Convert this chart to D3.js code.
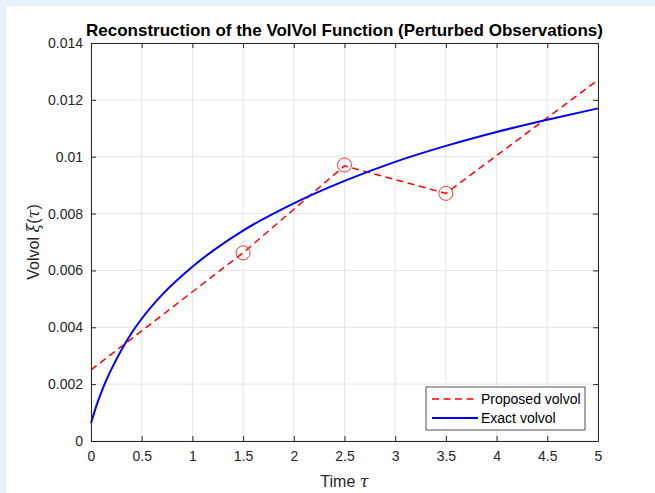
<!DOCTYPE html>
<html>
<head>
<meta charset="utf-8">
<script src="https://cdn.jsdelivr.net/npm/d3@7"></script>
<style>
  html, body { margin: 0; padding: 0; background: #e8f1fb; }
  svg { display: block; font-family: "Liberation Sans", Arial, sans-serif; }
</style>
</head>
<body>
<svg id="chart" width="655" height="493"></svg>
<script>
// proposed volvol (piecewise linear through the observations)
const propTau = [0, 1.5, 2.5, 3.5, 5];
const propVal = [0.0025, 0.00662, 0.00968, 0.00871, 0.0127];

// observation markers
const obsTau = [1.5, 2.5, 3.5];
const obsVal = [0.00662, 0.00971, 0.00871];

// exact volvol
const exactTau = [0, 0.03, 0.07, 0.12, 0.17, 0.23, 0.3, 0.4, 0.5, 0.7, 1.0, 1.5, 2.0, 2.5, 3.0, 3.5, 4.0, 4.5, 5.0];
const exactVal = [0.00062, 0.00098, 0.00141, 0.00188, 0.00229, 0.00273, 0.0032, 0.0038, 0.0043, 0.00514, 0.00613, 0.0074, 0.00836, 0.00915, 0.00982, 0.01038, 0.01087, 0.0113, 0.0117];

const xTicks = [0, 0.5, 1, 1.5, 2, 2.5, 3, 3.5, 4, 4.5, 5];
const yTicks = [0, 0.002, 0.004, 0.006, 0.008, 0.01, 0.012, 0.014];

const svg = d3.select('#chart');
const M = { left: 91, right: 598, top: 43, bottom: 441 };
const axisColor = '#262626';

// white figure area
svg.append('rect')
  .attr('x', 6).attr('y', 6)
  .attr('width', 655 - 6).attr('height', 493 - 6)
  .attr('fill', '#fff');

const x = d3.scaleLinear().domain([0, 5]).range([M.left, M.right]);
const y = d3.scaleLinear().domain([0, 0.014]).range([M.bottom, M.top]);

// grid
const grid = svg.append('g').attr('stroke', '#e5e5e5').attr('stroke-width', 1);
xTicks.forEach(t => {
  grid.append('line')
    .attr('x1', x(t)).attr('x2', x(t))
    .attr('y1', M.top).attr('y2', M.bottom);
});
yTicks.forEach(t => {
  grid.append('line')
    .attr('x1', M.left).attr('x2', M.right)
    .attr('y1', y(t)).attr('y2', y(t));
});

// lines
const propLine = d3.line().x((d, i) => x(propTau[i])).y(d => y(d));
svg.append('path')
  .attr('d', propLine(propVal))
  .attr('fill', 'none')
  .attr('stroke', '#ff0000')
  .attr('stroke-width', 1.5)
  .attr('stroke-dasharray', '7,4.5');

const exactLine = d3.line().x((d, i) => x(exactTau[i])).y(d => y(d)).curve(d3.curveMonotoneX);
svg.append('path')
  .attr('d', exactLine(exactVal))
  .attr('fill', 'none')
  .attr('stroke', '#0000ff')
  .attr('stroke-width', 2);

svg.selectAll('.obs')
  .data(obsVal)
  .enter()
  .append('circle')
  .attr('cx', (d, i) => x(obsTau[i]))
  .attr('cy', d => y(d))
  .attr('r', 7)
  .attr('fill', 'none')
  .attr('stroke', '#ff0000')
  .attr('stroke-width', 0.8);

// axes (MATLAB box with inward ticks)
const fmtY = d => d === 0 ? '0' : String(+d.toFixed(3));
const xAxis = d3.axisBottom(x).tickValues(xTicks).tickSizeInner(-5).tickSizeOuter(0).tickPadding(10).tickFormat(d => String(d));
const yAxis = d3.axisLeft(y).tickValues(yTicks).tickSizeInner(-5).tickSizeOuter(0).tickPadding(8).tickFormat(fmtY);
const xAxisTop = d3.axisTop(x).tickValues(xTicks).tickSizeInner(-5).tickSizeOuter(0).tickFormat('');
const yAxisRight = d3.axisRight(y).tickValues(yTicks).tickSizeInner(-5).tickSizeOuter(0).tickFormat('');

function style(g) {
  g.select('.domain').attr('stroke', axisColor);
  g.selectAll('.tick line').attr('stroke', axisColor);
  g.selectAll('.tick text').attr('fill', axisColor).attr('font-size', 14).attr('font-family', '"Liberation Sans", Arial, sans-serif');
}
svg.append('g').attr('transform', `translate(0,${M.bottom})`).call(xAxis).call(style);
svg.append('g').attr('transform', `translate(${M.left},0)`).call(yAxis).call(style);
svg.append('g').attr('transform', `translate(0,${M.top})`).call(xAxisTop).call(style);
svg.append('g').attr('transform', `translate(${M.right},0)`).call(yAxisRight).call(style);

// title and labels
svg.append('text')
  .attr('x', (M.left + M.right) / 2).attr('y', 36)
  .attr('text-anchor', 'middle')
  .attr('font-size', 17).attr('font-weight', 'bold')
  .attr('fill', '#000')
  .text('Reconstruction of the VolVol Function (Perturbed Observations)');

const xl = svg.append('text')
  .attr('x', (M.left + M.right) / 2).attr('y', 487)
  .attr('text-anchor', 'middle')
  .attr('font-size', 16).attr('fill', axisColor);
xl.append('tspan').text('Time ');
xl.append('tspan').attr('font-style', 'italic').attr('font-family', '"DejaVu Serif", serif').text('τ');

const yl = svg.append('text')
  .attr('transform', `translate(39,${(M.top + M.bottom) / 2}) rotate(-90)`)
  .attr('text-anchor', 'middle')
  .attr('font-size', 16).attr('fill', axisColor);
yl.append('tspan').text('Volvol ');
yl.append('tspan').attr('font-style', 'italic').attr('font-family', '"DejaVu Serif", serif').text('ξ');
yl.append('tspan').text('(');
yl.append('tspan').attr('font-style', 'italic').attr('font-family', '"DejaVu Serif", serif').text('τ');
yl.append('tspan').text(')');

// legend
const legend = svg.append('g').attr('transform', 'translate(426,387)');
legend.append('rect')
  .attr('width', 159).attr('height', 43)
  .attr('fill', '#fff').attr('stroke', axisColor).attr('stroke-width', 0.8);
const items = [
  { label: 'Proposed volvol', color: '#ff0000', dash: '7,4.5', w: 1.5 },
  { label: 'Exact volvol', color: '#0000ff', dash: null, w: 2 }
];
items.forEach((it, i) => {
  const cy = 12 + i * 19;
  legend.append('line')
    .attr('x1', 6).attr('x2', 52).attr('y1', cy).attr('y2', cy)
    .attr('stroke', it.color).attr('stroke-width', it.w)
    .attr('stroke-dasharray', it.dash);
  legend.append('text')
    .attr('x', 55).attr('y', cy + 5)
    .attr('font-size', 14).attr('fill', '#000')
    .text(it.label);
});
</script>
</body>
</html>
